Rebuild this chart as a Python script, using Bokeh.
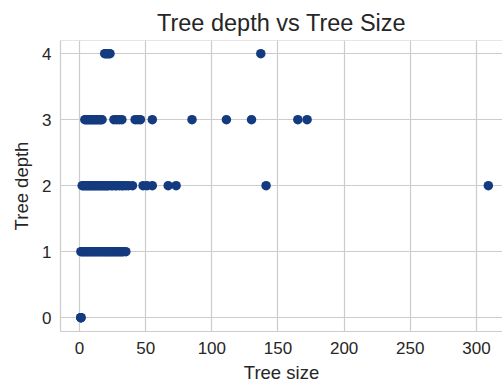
from bokeh.plotting import figure
from bokeh.models import ColumnDataSource, Range1d, Span
from bokeh.embed import file_html
from bokeh.resources import INLINE

# Tree size values, grouped by tree depth
size_depth0 = [1, 1, 1]
size_depth1 = [1, 2, 3, 4, 5, 6, 7, 8, 9, 10, 11, 12, 13, 14, 15, 16, 17, 18,
               19, 20, 21, 22, 23, 24, 25, 26, 27, 28, 29, 30, 31, 32, 33, 35]
size_depth2 = [2, 3, 4, 5, 6, 7, 8, 9, 10, 11, 12, 13, 14, 15, 16, 17, 18, 19,
               20, 21, 22, 24, 25, 27, 28, 30, 32, 33, 35, 37, 40,
               48, 51, 55, 67, 73, 141, 309]
size_depth3 = [4, 5, 6, 7, 8, 9, 10, 11, 12, 13, 14, 15, 16, 17, 26, 28, 30, 32,
               42, 44, 46, 55, 85, 111, 130, 165, 172]
size_depth4 = [19, 20, 21, 22, 23, 137]

x_ticks = [0, 50, 100, 150, 200, 250, 300]
y_ticks = [0, 1, 2, 3, 4]

xs, ys = [], []
for d, arr in enumerate([size_depth0, size_depth1, size_depth2, size_depth3, size_depth4]):
    xs += arr
    ys += [d] * len(arr)
source = ColumnDataSource(dict(size=xs, depth=ys))

TEXT = "#262626"
GRID = "#cccccc"
FONT = "Liberation Sans"

p = figure(width=502, height=385, output_backend="svg", toolbar_location=None,
           x_range=Range1d(-14.4, 319.7), y_range=Range1d(-0.21, 4.2),
           title="Tree depth vs Tree Size",
           min_border_left=60, min_border_right=0, min_border_top=40, min_border_bottom=20)

p.scatter("size", "depth", source=source, size=9.5, fill_color="#143b7f", line_color=None)

p.title.align = "center"
p.title.text_font = FONT
p.title.text_font_size = "23.5px"
p.title.text_font_style = "normal"
p.title.text_color = TEXT

for ax in (p.xaxis[0], p.yaxis[0]):
    ax.major_label_text_font = FONT
    ax.major_label_text_font_size = "17px"
    ax.major_label_text_color = TEXT
    ax.axis_label_text_font = FONT
    ax.axis_label_text_font_size = "18.5px"
    ax.axis_label_text_font_style = "normal"
    ax.axis_label_text_color = TEXT
    ax.major_tick_line_color = None
    ax.minor_tick_line_color = None
    ax.major_tick_out = 0
    ax.major_tick_in = 0
    ax.axis_line_color = GRID
    ax.axis_line_width = 1.2

p.xaxis.ticker = x_ticks
p.yaxis.ticker = y_ticks
p.xaxis.axis_label = "Tree size"
p.yaxis.axis_label = "Tree depth"
p.xaxis.major_label_standoff = 10
p.xaxis.axis_label_standoff = 5
p.yaxis.major_label_standoff = 9
p.yaxis.axis_label_standoff = 7

p.grid.grid_line_color = GRID
p.grid.grid_line_width = 1.2
p.outline_line_color = None
p.add_layout(Span(location=4.2, dimension="width", line_color=GRID, line_width=1.2))

p.background_fill_color = "white"
p.border_fill_color = "white"

open("out.html", "w").write(file_html(p, INLINE))
